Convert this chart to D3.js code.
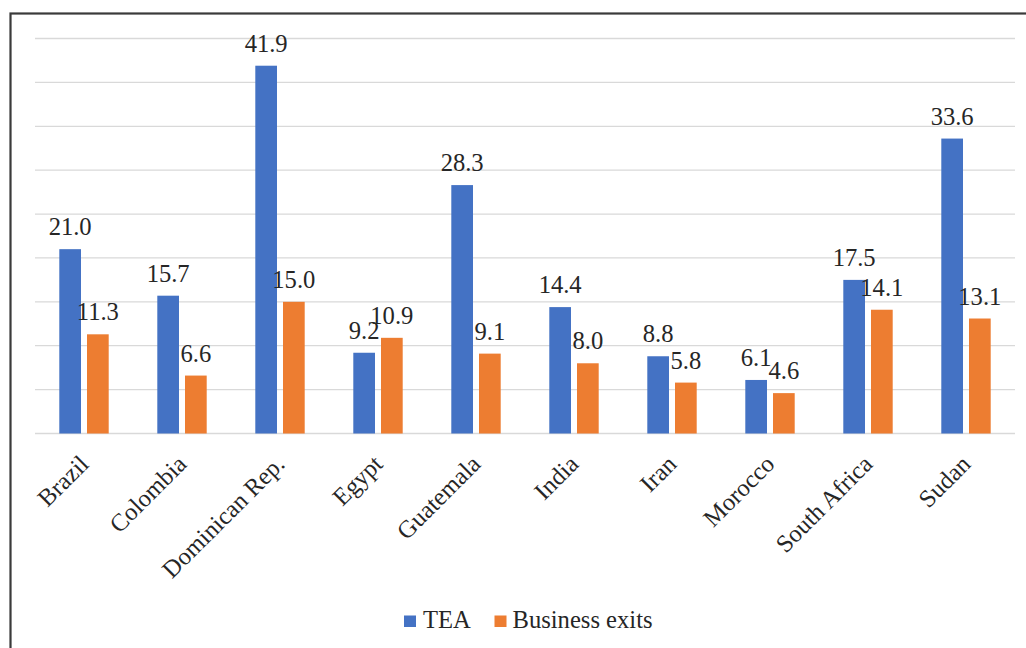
<!DOCTYPE html>
<html>
<head>
<meta charset="utf-8">
<script src="https://cdn.jsdelivr.net/npm/d3@7"></script>
<style>
  html, body { margin: 0; padding: 0; background: #fff; }
  svg { display: block; }
  text { font-family: "Liberation Serif", "Times New Roman", serif; fill: #262626; }
</style>
</head>
<body>
<svg id="chart" width="1026" height="648"></svg>
<script>
const categories = ["Brazil", "Colombia", "Dominican Rep.", "Egypt", "Guatemala", "India", "Iran", "Morocco", "South Africa", "Sudan"];
const teaValues = [21.0, 15.7, 41.9, 9.2, 28.3, 14.4, 8.8, 6.1, 17.5, 33.6];
const exitValues = [11.3, 6.6, 15.0, 10.9, 9.1, 8.0, 5.8, 4.6, 14.1, 13.1];
const seriesNames = ["TEA", "Business exits"];
const seriesColors = ["#4472C4", "#ED7D31"];
const yTicks = [0, 5, 10, 15, 20, 25, 30, 35, 40, 45];

const svg = d3.select("#chart");
const plot = { left: 35, right: 1015, top: 38.5, bottom: 433.5 };
const FS = 24.6;

// outer border
svg.append("rect")
  .attr("x", 10.5).attr("y", 13.5)
  .attr("width", 1040).attr("height", 660)
  .attr("fill", "none").attr("stroke", "#3a3a3a").attr("stroke-width", 2.2);

const x = d3.scaleBand().domain(categories).range([plot.left, plot.right]).paddingInner(0).paddingOuter(0);
const y = d3.scaleLinear().domain([0, 45]).range([plot.bottom, plot.top]);

const barW = 21.7, gap = 6;
const series = [teaValues, exitValues];

// gridlines
svg.append("g")
  .selectAll("line").data(yTicks).join("line")
  .attr("x1", plot.left).attr("x2", plot.right)
  .attr("y1", d => y(d)).attr("y2", d => y(d))
  .attr("stroke", "#d9d9d9").attr("stroke-width", 1.3);

// bars
series.forEach((vals, si) => {
  const offset = si === 0 ? -(gap / 2 + barW) : gap / 2;
  const g = svg.append("g");
  g.selectAll("rect").data(vals).join("rect")
    .attr("x", (d, i) => x(categories[i]) + x.bandwidth() / 2 + offset)
    .attr("y", d => y(d))
    .attr("width", barW)
    .attr("height", d => y(0) - y(d))
    .attr("fill", seriesColors[si]);
  g.selectAll("text").data(vals).join("text")
    .attr("x", (d, i) => x(categories[i]) + x.bandwidth() / 2 + offset + barW / 2)
    .attr("y", d => y(d) - 14)
    .attr("text-anchor", "middle")
    .attr("font-size", FS)
    .text(d => d.toFixed(1));
});

// category labels
svg.append("g")
  .selectAll("text").data(categories).join("text")
  .attr("transform", d => `translate(${x(d) + x.bandwidth() / 2 - 7},${plot.bottom + 19}) rotate(-45)`)
  .attr("text-anchor", "end")
  .attr("dy", "0.75em")
  .attr("font-size", FS)
  .text(d => d);

// legend
const legend = svg.append("g");
const legendItems = [{ x: 404, tx: 423 }, { x: 494.5, tx: 512.5 }];
seriesNames.forEach((name, i) => {
  legend.append("rect")
    .attr("x", legendItems[i].x).attr("y", 615.5)
    .attr("width", 12).attr("height", 11.5)
    .attr("fill", seriesColors[i]);
  legend.append("text")
    .attr("x", legendItems[i].tx).attr("y", 627.5)
    .attr("font-size", FS)
    .text(name);
});
</script>
</body>
</html>
